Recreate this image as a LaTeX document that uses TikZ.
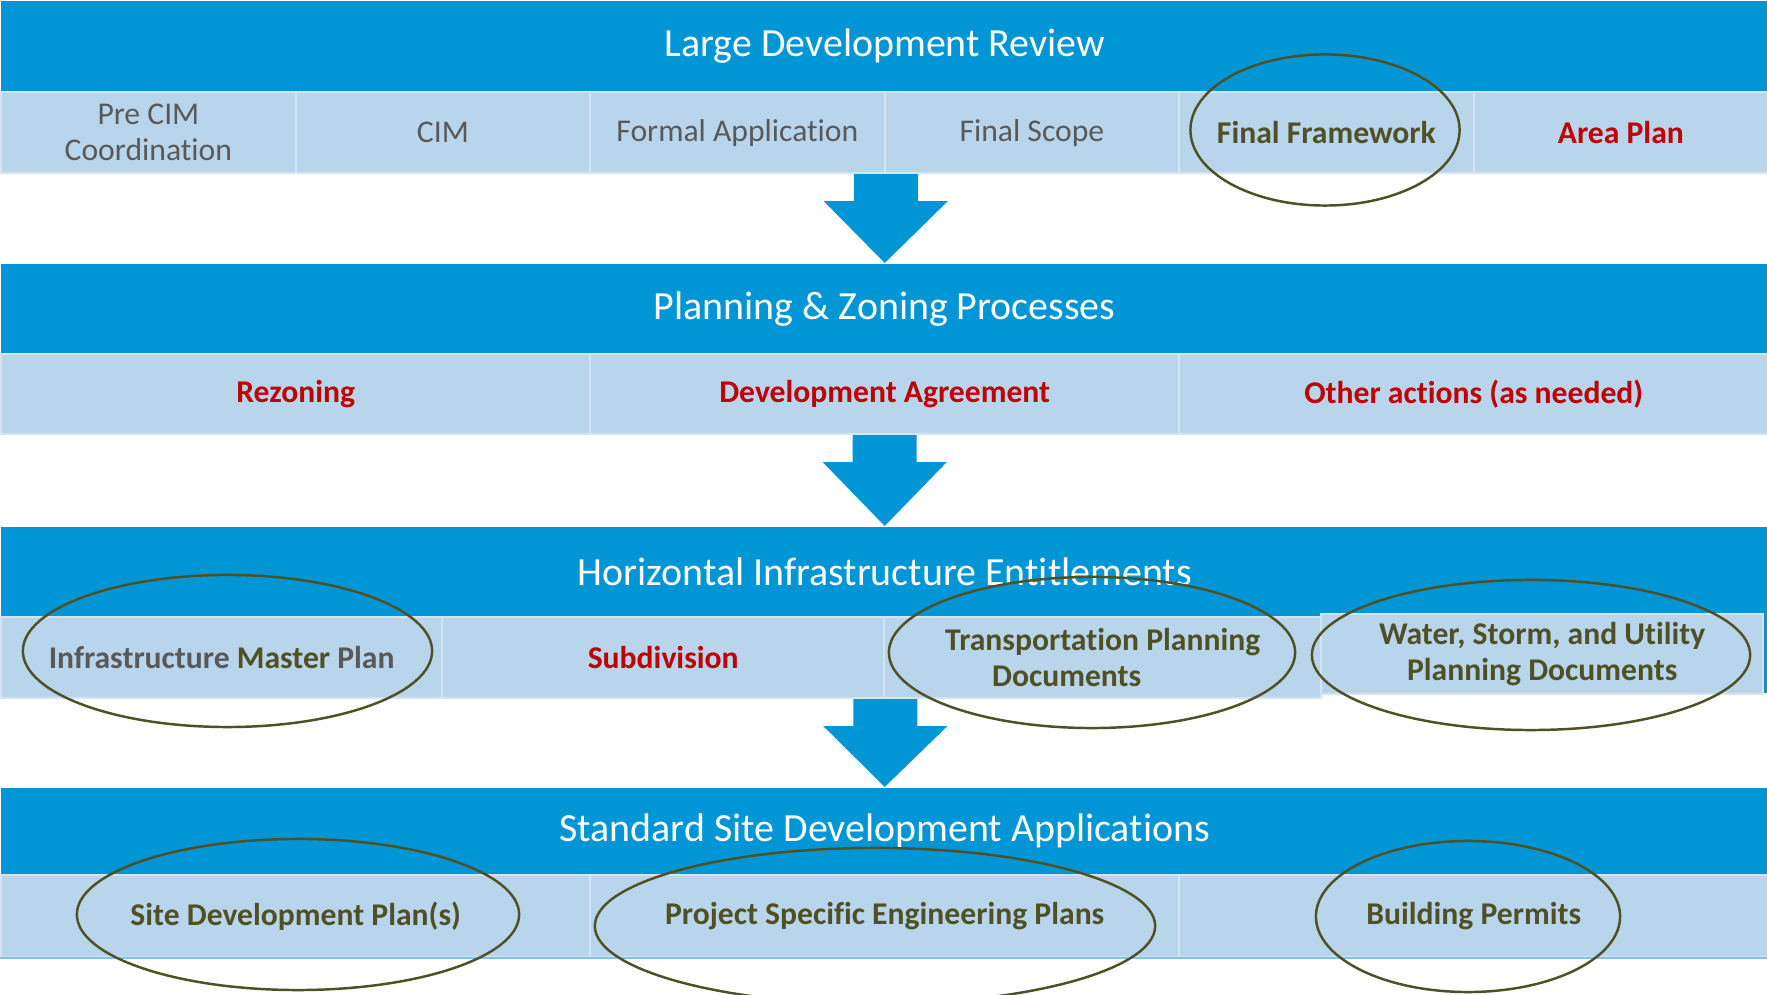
\documentclass[tikz,border=0pt]{standalone}
\usepackage{fontspec}
\setmainfont[Ligatures=NoCommon]{Carlito}
\usetikzlibrary{calc}
\definecolor{hdr}{RGB}{0,150,214}
\definecolor{rowc}{RGB}{184,213,236}
\definecolor{gridc}{RGB}{212,228,243}
\definecolor{grayt}{RGB}{89,89,89}
\definecolor{redt}{RGB}{192,0,0}
\definecolor{olivet}{RGB}{79,81,36}
\begin{document}
\begin{tikzpicture}[x=0.01cm,y=-0.01cm,
  hdrbox/.style={fill=hdr, draw=none, anchor=north west, inner sep=0pt,
    minimum width=17.67cm, minimum height=#1, text=white,
    font=\fontsize{11.35}{13.5}\selectfont},
  cell/.style={fill=rowc, draw=gridc, line width=0.6pt, anchor=north west,
    inner sep=0pt, minimum width=#1, align=center,
    font=\fontsize{9}{10.2}\selectfont},
  plain/.style={text=grayt},
  redb/.style={text=redt, font=\fontsize{9}{10.2}\selectfont\bfseries},
  oliveb/.style={text=olivet, font=\fontsize{9}{10.2}\selectfont\bfseries},
  ring/.style={draw=olivet, line width=0.7pt},
  blockarrow/.style={fill=hdr, draw=none}]
\useasboundingbox (0,0) rectangle (1767,995);
\clip (0,0) rectangle (1767,995);
\fill[white] (0,0) rectangle (1767,995);

% ---- band 1
\node[hdrbox=0.91cm] (h1) at (0,0) {Large Development Review};
\node[cell=2.945cm, minimum height=0.81cm, plain] (c11) at (0,91) {Pre CIM\\Coordination};
\node[cell=2.945cm, minimum height=0.81cm, plain] (c12) at (294.5,91) {CIM};
\node[cell=2.945cm, minimum height=0.81cm, plain] (c13) at (589,91) {Formal Application};
\node[cell=2.945cm, minimum height=0.81cm, plain] (c14) at (883.5,91) {Final Scope};
\node[cell=2.945cm, minimum height=0.81cm, oliveb] (c15) at (1178,91) {Final Framework};
\node[cell=2.945cm, minimum height=0.81cm, redb] (c16) at (1472.5,91) {Area Plan};

% ---- band 2
\node[hdrbox=0.90cm] (h2) at (0,263) {Planning \& Zoning Processes};
\node[cell=5.89cm, minimum height=0.80cm, redb] (c21) at (0,353) {Rezoning};
\node[cell=5.89cm, minimum height=0.80cm, redb] (c22) at (589,353) {Development Agreement};
\node[cell=5.89cm, minimum height=0.80cm, redb] (c23) at (1178,353) {Other actions (as needed)};

% ---- band 3
\node[hdrbox=0.90cm] (h3) at (0,526) {Horizontal Infrastructure Entitlements};
\node[cell=4.41cm, minimum height=0.81cm, oliveb] (c31) at (0,616)
  {\textcolor{grayt}{Infrastructure} Master \textcolor{grayt}{Plan}};
\node[cell=4.42cm, minimum height=0.81cm, redb] (c32) at (441,616) {Subdivision};
\node[cell=4.37cm, minimum height=0.81cm, oliveb] (c33) at (883,616)
  {Transportation Planning\\Documents\hspace*{0.72cm}};
\node[cell=4.42cm, minimum height=0.80cm, oliveb] (c34) at (1320,613)
  {Water, Storm, and Utility\\Planning Documents};
\fill[hdr] (c34.north east) rectangle (1767,693);

% ---- band 4
\node[hdrbox=0.87cm] (h4) at (0,787) {Standard Site Development Applications};
\node[cell=5.89cm, minimum height=0.82cm, oliveb] (c41) at (0,874) {Site Development Plan(s)};
\node[cell=5.89cm, minimum height=0.82cm, oliveb] (c42) at (589,874) {Project Specific Engineering Plans};
\node[cell=5.89cm, minimum height=0.82cm, oliveb] (c43) at (1178,874) {Building Permits};
\draw[rowc!70!hdr, line width=0.6pt] (c41.south west) -- (c43.south east);

% ---- block arrows
\newcommand\blockarr[2]{%
  \fill[blockarrow] ($(#1)+(-32,0)$) -- ($(#1)+(32,0)$) -- ($(#1)+(32,27)$)
    -- ($(#1)+(62,27)$) -- (#2) -- ($(#1)+(-62,27)$) -- ($(#1)+(-32,27)$) -- cycle;}
\blockarr{c13.south east}{h2.north}
\blockarr{c22.south}{h3.north}
\blockarr{c32.south east}{h4.north}

% ---- highlight rings
\draw[ring] (1325,130) ellipse [x radius=1.345cm, y radius=0.755cm];
\draw[ring] (227.5,651) ellipse [x radius=2.045cm, y radius=0.76cm];
\draw[ring] (1092,652.5) ellipse [x radius=2.03cm, y radius=0.755cm];
\draw[ring] (1531,655) ellipse [x radius=2.19cm, y radius=0.75cm];
\draw[ring] (298,914.5) ellipse [x radius=2.21cm, y radius=0.755cm];
\draw[ring] (875,926) ellipse [x radius=2.80cm, y radius=0.78cm];
\draw[ring] (1468,916.5) ellipse [x radius=1.52cm, y radius=0.755cm];
\end{tikzpicture}
\end{document}
